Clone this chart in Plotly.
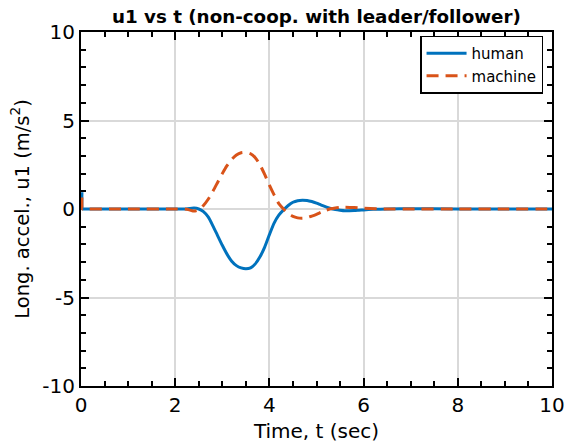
import plotly.graph_objects as go

t_human = [0.02, 0.03, 0.05, 0.1, 1.0, 2.0, 2.2, 2.3, 2.4, 2.5, 2.6, 2.7, 2.8, 2.9, 3.0, 3.1, 3.2, 3.3, 3.4,
           3.5, 3.6, 3.7, 3.8, 3.9, 4.0, 4.1, 4.2, 4.3, 4.4, 4.5, 4.6, 4.7, 4.8, 4.9, 5.0, 5.1, 5.2, 5.3,
           5.4, 5.5, 5.6, 5.7, 5.8, 5.9, 6.0, 6.2, 6.5, 7.0, 8.0, 9.0, 10.0]
u_human = [0.95, 0.0, 0.0, 0.0, 0.0, 0.0, 0.0, 0.03, 0.05, 0.0, -0.15, -0.45, -0.95, -1.5, -2.05, -2.55,
           -2.95, -3.2, -3.33, -3.38, -3.33, -3.1, -2.7, -2.15, -1.45, -0.8, -0.35, -0.05, 0.2, 0.38,
           0.47, 0.5, 0.48, 0.42, 0.33, 0.22, 0.12, 0.03, -0.03, -0.07, -0.1, -0.1, -0.09, -0.07, -0.05,
           -0.02, 0.0, 0.02, 0.0, 0.0, 0.0]

t_machine = [0.02, 0.03, 0.05, 0.1, 1.0, 2.0, 2.2, 2.3, 2.4, 2.5, 2.6, 2.7, 2.8, 2.9, 3.0, 3.1, 3.2, 3.3,
             3.4, 3.5, 3.6, 3.7, 3.8, 3.9, 4.0, 4.1, 4.2, 4.3, 4.4, 4.5, 4.6, 4.7, 4.8, 4.9, 5.0, 5.1,
             5.2, 5.3, 5.4, 5.5, 5.6, 5.8, 6.0, 6.5, 7.0, 8.0, 9.0, 10.0]
u_machine = [0.65, 0.0, 0.0, 0.0, 0.0, 0.0, 0.0, -0.05, -0.12, -0.05, 0.2, 0.55, 1.0, 1.5, 2.0, 2.45,
             2.8, 3.05, 3.18, 3.2, 3.12, 2.9, 2.5, 1.95, 1.35, 0.8, 0.3, 0.0, -0.25, -0.42, -0.5, -0.52,
             -0.48, -0.4, -0.3, -0.18, -0.07, 0.01, 0.06, 0.09, 0.1, 0.08, 0.04, 0.0, 0.0, 0.0, 0.0, 0.0]

x_ticks = [0, 2, 4, 6, 8, 10]
y_ticks = [-10, -5, 0, 5, 10]

FONT = "DejaVu Sans"

fig = go.Figure()
fig.add_trace(go.Scatter(x=t_human, y=u_human, mode="lines", name="human",
                         line=dict(color="#0072BD", width=3, shape="spline", smoothing=0.6)))
fig.add_trace(go.Scatter(x=t_machine, y=u_machine, mode="lines", name="machine",
                         line=dict(color="#D95319", width=3, dash="12px,7px", shape="spline", smoothing=0.6)))

axis_common = dict(
    showline=True, linecolor="black", linewidth=2, mirror="allticks",
    ticks="inside", ticklen=8, tickwidth=1.5, tickcolor="black",
    showgrid=True, gridcolor="#d9d9d9", gridwidth=1.5, zeroline=False,
    tickfont=dict(family=FONT, size=20, color="black"),
    automargin=False, layer="below traces",
)

fig.update_layout(
    width=567, height=447,
    margin=dict(l=81, r=15, t=32, b=61),
    plot_bgcolor="white", paper_bgcolor="white",
    font=dict(family=FONT, color="black"),
    title=dict(text="<b>u1 vs t (non-coop. with leader/follower)</b>", x=0.558, xanchor="center",
               y=0.962, yanchor="middle", font=dict(family=FONT, size=18.3, color="black")),
    xaxis=dict(range=[0, 10], tickvals=x_ticks, ticktext=[str(v) for v in x_ticks],
               title=dict(text="Time, t (sec)", font=dict(family=FONT, size=20), standoff=8),
               minor=dict(dtick=0.5, ticks="inside", ticklen=5, tickcolor="black", tickwidth=1.5, showgrid=False),
               **axis_common),
    yaxis=dict(range=[-10, 10], tickvals=y_ticks, ticktext=[str(v) for v in y_ticks],
               title=dict(text="Long. accel., u1 (m/s<sup>2</sup>)", font=dict(family=FONT, size=19.5), standoff=8),
               minor=dict(dtick=1, ticks="inside", ticklen=5, tickcolor="black", tickwidth=1.5, showgrid=False),
               **axis_common),
    legend=dict(x=0.981, y=0.99, xanchor="right", yanchor="top", bgcolor="white",
                bordercolor="black", borderwidth=1.5, font=dict(family=FONT, size=15),
                tracegroupgap=0, itemwidth=40),
    showlegend=True,
)

fig.write_html("out.html")
